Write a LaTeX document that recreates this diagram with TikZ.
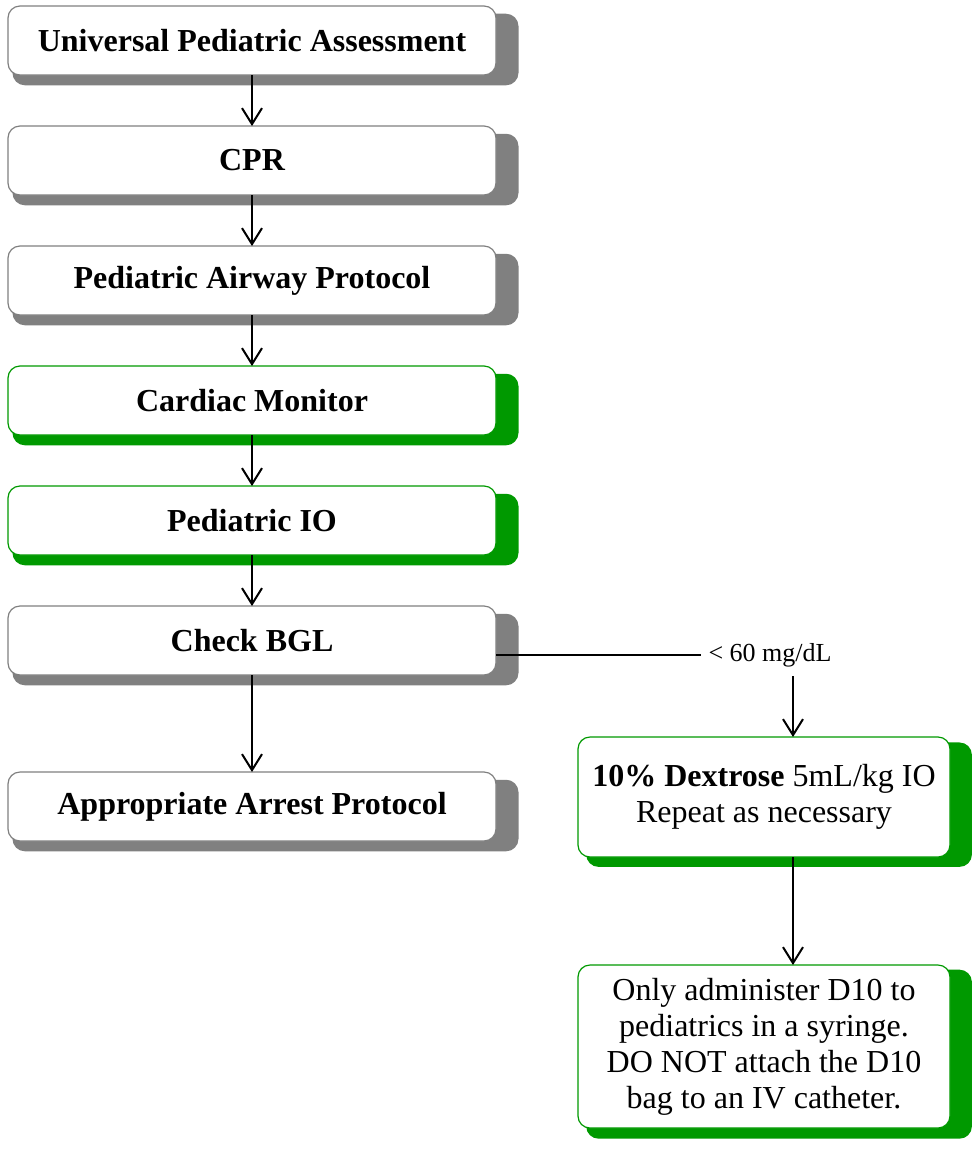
\documentclass[tikz,border=0pt]{standalone}
\usepackage{fontspec}
\setmainfont{Liberation Serif}
\usetikzlibrary{positioning,shadows,arrows.meta}

\definecolor{shadegray}{RGB}{128,128,128}
\definecolor{stepgreen}{RGB}{0,153,0}

\tikzset{
  box/.style={draw, rounded corners=6pt, fill=white, line width=0.6pt, outer sep=0pt,
    minimum width=244pt, minimum height=34.5pt, align=center,
    font=\fontsize{16}{18}\selectfont},
  graybox/.style={box, draw=shadegray, font=\fontsize{16}{18}\selectfont\bfseries,
    general shadow={fill=shadegray, shadow xshift=6.5pt, shadow yshift=-4.35pt, shadow scale=1.037}},
  greenbox/.style={box, draw=stepgreen, font=\fontsize{16}{18}\selectfont\bfseries,
    general shadow={fill=stepgreen, shadow xshift=6.5pt, shadow yshift=-4.35pt, shadow scale=1.037}},
  notebox/.style={box, draw=stepgreen, minimum width=186pt,
    general shadow={fill=stepgreen, shadow xshift=7.25pt, shadow yshift=-3.7pt, shadow scale=1.037}},
  arr/.style={-{Straight Barb[length=8pt,width=10pt]}, line width=1pt},
}

\begin{document}
\begin{tikzpicture}[node distance=25.5pt]
\useasboundingbox (0,0) rectangle (486.5pt,-584pt);

% left column
\node[graybox] (upa) at (126pt,-20.25pt) {Universal Pediatric Assessment};
\node[graybox, below=of upa] (cpr) {CPR};
\node[graybox, below=of cpr] (airway) {Pediatric Airway Protocol};
\node[greenbox, below=of airway] (monitor) {Cardiac Monitor};
\node[greenbox, below=of monitor] (io) {Pediatric IO};
\node[graybox, below=of io] (bgl) {Check BGL};
\node[graybox, below=48.5pt of bgl] (arrest) {Appropriate Arrest Protocol};

% right column
\node[font=\fontsize{13}{15}\selectfont] (low) at (385pt,-327.5pt) {< 60 mg/dL};
\coordinate (tap) at (396.5pt,-338pt);
\node[notebox, minimum height=60pt] (dex) at (382pt,-398.5pt)
  {\textbf{10\% Dextrose} 5mL/kg IO\\Repeat as necessary};
\node[notebox, minimum height=81.5pt, below=54pt of dex] (d10)
  {Only administer D10 to\\pediatrics in a syringe.\\DO NOT attach the D10\\bag to an IV catheter.};

\draw[arr] (upa) -- (cpr);
\draw[arr] (cpr) -- (airway);
\draw[arr] (airway) -- (monitor);
\draw[arr] (monitor) -- (io);
\draw[arr] (io) -- (bgl);
\draw[arr] (bgl) -- (arrest);

\draw[line width=0.6pt] (bgl.east |- low.west) -- (low.west);
\draw[arr] (tap) -- (tap |- dex.north);
\draw[arr] (tap |- dex.south) -- (tap |- d10.north);
\end{tikzpicture}
\end{document}
